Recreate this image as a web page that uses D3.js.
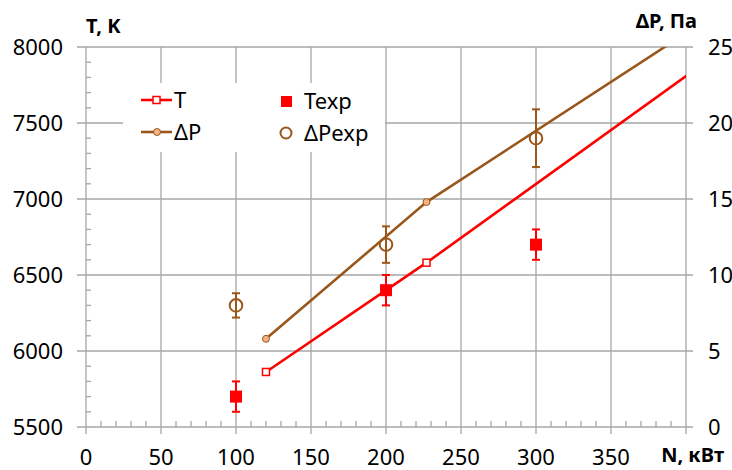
<!DOCTYPE html>
<html>
<head>
<meta charset="utf-8">
<script src="https://cdn.jsdelivr.net/npm/d3@7"></script>
<style>
  body { margin: 0; background: #fff; }
  text { font-family: "Noto Sans", "Open Sans", sans-serif; fill: #000; }
</style>
</head>
<body>
<svg id="chart"></svg>
<script>
// calculated curves
var calcN = [120, 227, 420];
var calcT = [5862, 6581, 7950];
var calcDP = [5.8, 14.8, 27.2];

// experiment
var expN = [100, 200, 300];
var expT = [5700, 6400, 6700];
var expTerr = [100, 100, 100];
var expDP = [8.0, 12.0, 19.0];
var expDPerr = [0.8, 1.2, 1.9];

var xTicks = [0, 50, 100, 150, 200, 250, 300, 350];
var tTicks = [5500, 6000, 6500, 7000, 7500, 8000];
var dpTicks = [0, 5, 10, 15, 20, 25];

var svgWidth = 732, svgHeight = 470;
var plotLeft = 86, plotRight = 686, plotTop = 47, plotBottom = 427;

var red = "#ff0000", brown = "#9a571c", brownLight = "#f4b183", grid = "#a6a6a6";

var svg = d3.select("#chart")
  .attr("width", svgWidth)
  .attr("height", svgHeight);

var xScale = d3.scaleLinear().domain([0, 400]).range([plotLeft, plotRight]);
var tScale = d3.scaleLinear().domain([5500, 8000]).range([plotBottom, plotTop]);
var dpScale = d3.scaleLinear().domain([0, 25]).range([plotBottom, plotTop]);

svg.append("defs").append("clipPath").attr("id", "plot")
  .append("rect")
  .attr("x", plotLeft).attr("y", plotTop)
  .attr("width", plotRight - plotLeft).attr("height", plotBottom - plotTop);

// grid
svg.append("g").selectAll("line")
  .data(xTicks.concat([400]))
  .enter().append("line")
  .attr("x1", function(d) { return xScale(d); })
  .attr("x2", function(d) { return xScale(d); })
  .attr("y1", plotTop).attr("y2", plotBottom + 7)
  .attr("stroke", grid).attr("stroke-width", 1.3);

svg.append("g").selectAll("line")
  .data(tTicks)
  .enter().append("line")
  .attr("x1", plotLeft - 9).attr("x2", plotRight + 7)
  .attr("y1", function(d) { return tScale(d); })
  .attr("y2", function(d) { return tScale(d); })
  .attr("stroke", grid).attr("stroke-width", 1.3);

// minor ticks
svg.append("g").selectAll("line")
  .data(d3.range(5600, 8000, 100).filter(function(d) { return d % 500 != 0; }))
  .enter().append("line")
  .attr("x1", plotLeft).attr("x2", plotLeft + 5)
  .attr("y1", function(d) { return tScale(d); })
  .attr("y2", function(d) { return tScale(d); })
  .attr("stroke", grid).attr("stroke-width", 1.3);

svg.append("g").selectAll("line")
  .data(d3.range(10, 400, 10).filter(function(d) { return d % 50 != 0; }))
  .enter().append("line")
  .attr("x1", function(d) { return xScale(d); })
  .attr("x2", function(d) { return xScale(d); })
  .attr("y1", plotBottom).attr("y2", plotBottom - 6)
  .attr("stroke", grid).attr("stroke-width", 1.3);

// tick labels
svg.append("g").selectAll("text")
  .data(xTicks)
  .enter().append("text")
  .attr("x", function(d) { return xScale(d); })
  .attr("y", 465)
  .attr("text-anchor", "middle")
  .attr("font-size", 22)
  .text(function(d) { return d; });

svg.append("g").selectAll("text")
  .data(tTicks)
  .enter().append("text")
  .attr("x", 63)
  .attr("y", function(d) { return tScale(d) + 8; })
  .attr("text-anchor", "end")
  .attr("font-size", 22)
  .text(function(d) { return d; });

svg.append("g").selectAll("text")
  .data(dpTicks)
  .enter().append("text")
  .attr("x", 708)
  .attr("y", function(d) { return dpScale(d) + 8; })
  .attr("font-size", 22)
  .text(function(d) { return d; });

// axis titles
svg.append("text").attr("x", 86).attr("y", 33)
  .attr("font-size", 20).attr("font-weight", "bold").text("T, K");
svg.append("text").attr("x", 697).attr("y", 28).attr("text-anchor", "end")
  .attr("font-size", 20).attr("font-weight", "bold").text("ΔP, Па");
svg.append("text").attr("x", 724).attr("y", 462).attr("text-anchor", "end")
  .attr("font-size", 20).attr("font-weight", "bold").text("N, кВт");

// legend background
svg.append("rect")
  .attr("x", 123).attr("y", 83).attr("width", 262).attr("height", 69)
  .attr("fill", "#fff");

var plot = svg.append("g").attr("clip-path", "url(#plot)");

// calculated lines
var tLine = d3.line()
  .x(function(d, i) { return xScale(calcN[i]); })
  .y(function(d) { return tScale(d); });
var dpLine = d3.line()
  .x(function(d, i) { return xScale(calcN[i]); })
  .y(function(d) { return dpScale(d); });

plot.append("path").attr("d", dpLine(calcDP))
  .attr("fill", "none").attr("stroke", brown).attr("stroke-width", 2.6);
plot.append("path").attr("d", tLine(calcT))
  .attr("fill", "none").attr("stroke", red).attr("stroke-width", 2.6);

plot.selectAll(".dpm")
  .data(calcDP)
  .enter().append("circle")
  .attr("cx", function(d, i) { return xScale(calcN[i]); })
  .attr("cy", function(d) { return dpScale(d); })
  .attr("r", 3.5)
  .attr("fill", brownLight).attr("stroke", brown).attr("stroke-width", 1);

plot.selectAll(".tm")
  .data(calcT)
  .enter().append("rect")
  .attr("x", function(d, i) { return xScale(calcN[i]) - 3.5; })
  .attr("y", function(d) { return tScale(d) - 3.5; })
  .attr("width", 7).attr("height", 7)
  .attr("fill", "#fff").attr("stroke", red).attr("stroke-width", 1.5);

// error bars
function errorBars(vals, errs, scale, color) {
  var g = plot.append("g").attr("stroke", color).attr("stroke-width", 2);
  vals.forEach(function(v, i) {
    var x = xScale(expN[i]);
    g.append("line").attr("x1", x).attr("x2", x)
      .attr("y1", scale(v - errs[i])).attr("y2", scale(v + errs[i]));
    [v - errs[i], v + errs[i]].forEach(function(e) {
      g.append("line").attr("x1", x - 4).attr("x2", x + 4)
        .attr("y1", scale(e)).attr("y2", scale(e));
    });
  });
}
errorBars(expT, expTerr, tScale, red);
errorBars(expDP, expDPerr, dpScale, brown);

plot.selectAll(".texp")
  .data(expT)
  .enter().append("rect")
  .attr("x", function(d, i) { return xScale(expN[i]) - 6; })
  .attr("y", function(d) { return tScale(d) - 6; })
  .attr("width", 12).attr("height", 12)
  .attr("fill", red);

plot.selectAll(".dpexp")
  .data(expDP)
  .enter().append("circle")
  .attr("cx", function(d, i) { return xScale(expN[i]); })
  .attr("cy", function(d) { return dpScale(d); })
  .attr("r", 6.3)
  .attr("fill", "none").attr("stroke", brown).attr("stroke-width", 2);

// legend
var lg = svg.append("g");
lg.append("line").attr("x1", 141).attr("x2", 172).attr("y1", 100).attr("y2", 100)
  .attr("stroke", red).attr("stroke-width", 2.6);
lg.append("rect").attr("x", 153).attr("y", 96.5).attr("width", 7).attr("height", 7)
  .attr("fill", "#fff").attr("stroke", red).attr("stroke-width", 1.5);
lg.append("text").attr("x", 174).attr("y", 108).attr("font-size", 22).text("T");

lg.append("line").attr("x1", 141).attr("x2", 172).attr("y1", 132).attr("y2", 132)
  .attr("stroke", brown).attr("stroke-width", 2.6);
lg.append("circle").attr("cx", 157).attr("cy", 132).attr("r", 3.5)
  .attr("fill", brownLight).attr("stroke", brown).attr("stroke-width", 1);
lg.append("text").attr("x", 174).attr("y", 140).attr("font-size", 22).text("ΔP");

lg.append("rect").attr("x", 281).attr("y", 96).attr("width", 11).attr("height", 11)
  .attr("fill", red);
lg.append("text").attr("x", 304).attr("y", 109).attr("font-size", 22).text("Texp");

lg.append("circle").attr("cx", 286).attr("cy", 133).attr("r", 5.5)
  .attr("fill", "none").attr("stroke", brown).attr("stroke-width", 2);
lg.append("text").attr("x", 304).attr("y", 141).attr("font-size", 22).text("ΔPexp");
</script>
</body>
</html>
